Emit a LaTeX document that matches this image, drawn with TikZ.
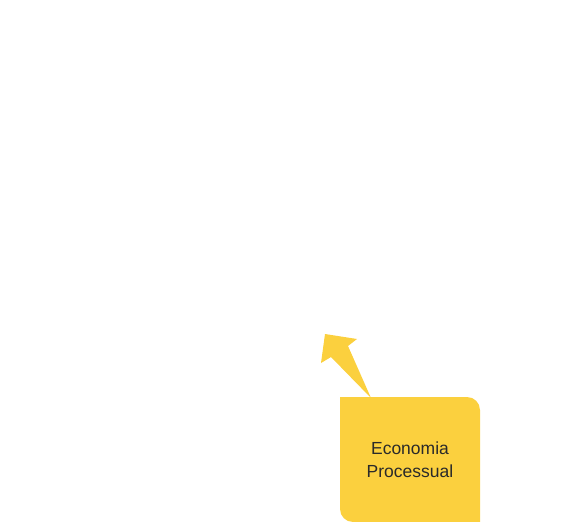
\documentclass[tikz,border=0pt]{standalone}
\usepackage{fontspec}
\setmainfont{Liberation Sans}
\definecolor{amarelo}{HTML}{FBD03E}
\definecolor{texto}{HTML}{2A2A2A}
\begin{document}
\begin{tikzpicture}[x=1pt,y=-1pt,
	caixa/.style={fill=amarelo,draw=none},
	rotulo/.style={align=center,text=texto,font=\fontsize{17.5}{23}\selectfont}]
	\useasboundingbox (0,0) rectangle (566,522);
	% caixa com cantos arredondados só em dois lados
	\path[caixa] (340,397) -- (467,397) arc[start angle=90,end angle=0,x radius=13,y radius=-13]
		-- (480,522) -- (353,522) arc[start angle=-90,end angle=-180,x radius=13,y radius=-13] -- cycle;
	\node[rotulo] (econ) at (410,460) {Economia\\Processual};
	\coordinate (base) at (371,398);
	\coordinate (ponta) at (325,334);
	% seta
	\path[caixa] (base) -- (331,357) -- (321,363) -- (ponta) -- (357,339) -- (348,346) -- cycle;
\end{tikzpicture}
\end{document}
